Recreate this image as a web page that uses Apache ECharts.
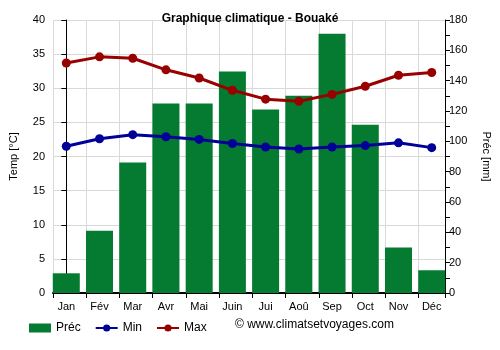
<!DOCTYPE html>
<html>
<head>
<meta charset="utf-8">
<script src="https://cdn.jsdelivr.net/npm/echarts@6/dist/echarts.min.js"></script>
<style>
  html, body { margin: 0; padding: 0; background: #fff; }
  #chart { width: 500px; height: 350px; }
</style>
</head>
<body>
<div id="chart"></div>
<script>
// Monthly climate data for Bouaké
const months = ['Jan', 'Fév', 'Mar', 'Avr', 'Mai', 'Juin', 'Jui', 'Aoû', 'Sep', 'Oct', 'Nov', 'Déc'];
const precip = [13, 41, 86, 125, 125, 146, 121, 130, 171, 111, 30, 15];
const tempMin = [21.5, 22.6, 23.2, 22.9, 22.5, 21.9, 21.4, 21.1, 21.4, 21.6, 22.0, 21.3];
const tempMax = [33.7, 34.6, 34.4, 32.7, 31.5, 29.7, 28.4, 28.1, 29.1, 30.3, 31.9, 32.3];

// Month index positions for labels; tick/grid boundaries sit at each bar's left edge
const labelValues = months.map((_, i) => i);
const boundaryValues = months.map((_, i) => i - 0.4).concat([11.4]);

const font = 'Liberation Sans, Arial, sans-serif';
const pair = arr => arr.map((v, i) => [i, v]);

const chart = echarts.init(document.getElementById('chart'), null, { renderer: 'canvas' });
chart.setOption({
  animation: false,
  title: {
    text: 'Graphique climatique - Bouaké',
    left: 'center',
    top: 8,
    textStyle: { fontFamily: font, fontSize: 12, fontWeight: 'bold', color: '#000' }
  },
  grid: { left: 49, right: 54, top: 20, bottom: 57 },
  legend: {
    data: [{ name: 'Préc', icon: 'rect' }, 'Min', 'Max'],
    left: 24,
    top: 317,
    itemWidth: 22,
    itemHeight: 9,
    itemGap: 14,
    textStyle: { fontFamily: font, fontSize: 12, color: '#000' }
  },
  graphic: [{
    type: 'text',
    left: 235,
    top: 319,
    style: { text: '© www.climatsetvoyages.com', font: '12px ' + font, fill: '#000' }
  }],
  xAxis: {
    type: 'value',
    min: -0.4,
    max: 11.4,
    axisLine: { show: true, lineStyle: { color: '#000', width: 2 } },
    axisTick: { show: true, length: 5, customValues: boundaryValues, lineStyle: { color: '#000' } },
    splitLine: { show: true, lineStyle: { color: '#d9d9d9', width: 1 } },
    axisLabel: {
      customValues: labelValues,
      formatter: v => months[Math.round(v)],
      fontFamily: font, fontSize: 11, color: '#000', margin: 8
    }
  },
  yAxis: [{
    type: 'value',
    min: 0, max: 40, interval: 5,
    name: 'Temp [°C]',
    nameLocation: 'middle',
    nameGap: 34,
    nameTextStyle: { fontFamily: font, fontSize: 11, color: '#000' },
    axisLine: { show: true, lineStyle: { color: '#000' } },
    axisTick: { show: true, length: 5, lineStyle: { color: '#000' } },
    axisLabel: { fontFamily: font, fontSize: 11, color: '#000', margin: 8 },
    splitLine: { show: true, lineStyle: { color: '#d9d9d9' } }
  }, {
    type: 'value',
    min: 0, max: 180, interval: 20,
    position: 'right',
    name: 'Préc [mm]',
    nameLocation: 'middle',
    nameGap: 36,
    nameRotate: -90,
    nameTextStyle: { fontFamily: font, fontSize: 11, color: '#000' },
    axisLine: { show: true, lineStyle: { color: '#000' } },
    axisTick: { show: true, length: 5, lineStyle: { color: '#000' } },
    minorTick: { show: true, splitNumber: 2, length: 5, lineStyle: { color: '#000' } },
    axisLabel: { fontFamily: font, fontSize: 11, color: '#000', margin: 4 },
    splitLine: { show: false }
  }],
  series: [{
    name: 'Préc',
    type: 'bar',
    yAxisIndex: 1,
    barWidth: 27,
    itemStyle: { color: '#047b30' },
    data: pair(precip),
    z: 1
  }, {
    name: 'Min',
    type: 'line',
    yAxisIndex: 0,
    symbol: 'circle',
    symbolSize: 9,
    lineStyle: { color: '#000099', width: 3 },
    itemStyle: { color: '#000099' },
    data: pair(tempMin),
    z: 3
  }, {
    name: 'Max',
    type: 'line',
    yAxisIndex: 0,
    symbol: 'circle',
    symbolSize: 9,
    lineStyle: { color: '#990000', width: 3 },
    itemStyle: { color: '#990000' },
    data: pair(tempMax),
    z: 3
  }]
});
</script>
</body>
</html>
